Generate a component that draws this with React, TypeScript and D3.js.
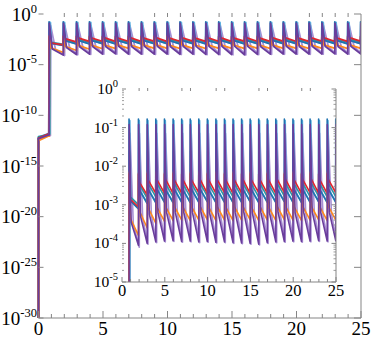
import React from 'react';
import * as d3 from 'd3';

// spike (pulse) times, shared by all series
const spikeTimes = [0.8, 1.9, 2.92, 3.93, 4.94, 5.95, 6.95, 7.95, 8.95, 9.95, 10.95, 11.95, 12.95, 13.95, 14.95, 15.95, 16.95, 17.95, 18.95, 19.95, 20.95, 21.95, 22.95, 23.95, 24.95];

// log10 levels: right after each pulse (knee) and just before the next pulse (trough)
const redKnee = [-2.85, -2.42, -2.36, -2.35, -2.34, -2.35, -2.34, -2.35, -2.33, -2.35, -2.34, -2.35, -2.34, -2.33, -2.35, -2.34, -2.35, -2.33, -2.34, -2.35, -2.34, -2.33, -2.35, -2.34, -2.35];
const redTrough = [-3.05, -2.74, -2.7, -2.69, -2.7, -2.69, -2.7, -2.68, -2.7, -2.69, -2.68, -2.7, -2.69, -2.7, -2.68, -2.69, -2.7, -2.68, -2.69, -2.7, -2.68, -2.69, -2.7, -2.68, -2.69];
const tealKnee = [-2.8, -2.5, -2.47, -2.46, -2.47, -2.46, -2.47, -2.46, -2.45, -2.47, -2.46, -2.47, -2.46, -2.45, -2.47, -2.46, -2.47, -2.45, -2.46, -2.47, -2.46, -2.45, -2.47, -2.46, -2.47];
const tealTrough = [-3.0, -2.84, -2.81, -2.8, -2.81, -2.8, -2.81, -2.8, -2.79, -2.81, -2.8, -2.81, -2.8, -2.79, -2.81, -2.8, -2.81, -2.79, -2.8, -2.81, -2.8, -2.79, -2.81, -2.8, -2.81];
const blueKnee = [-2.88, -2.6, -2.58, -2.57, -2.58, -2.57, -2.58, -2.57, -2.56, -2.58, -2.57, -2.58, -2.57, -2.56, -2.58, -2.57, -2.58, -2.56, -2.57, -2.58, -2.57, -2.56, -2.58, -2.57, -2.58];
const blueTrough = [-3.1, -2.96, -2.94, -2.93, -2.94, -2.93, -2.94, -2.93, -2.92, -2.94, -2.93, -2.94, -2.93, -2.92, -2.94, -2.93, -2.94, -2.92, -2.93, -2.94, -2.93, -2.92, -2.94, -2.93, -2.94];
const skyKnee = [-2.9, -2.64, -2.62, -2.61, -2.62, -2.61, -2.62, -2.61, -2.6, -2.62, -2.61, -2.62, -2.61, -2.6, -2.62, -2.61, -2.62, -2.6, -2.61, -2.62, -2.61, -2.6, -2.62, -2.61, -2.62];
const skyTrough = [-3.12, -2.98, -2.96, -2.95, -2.96, -2.95, -2.96, -2.95, -2.94, -2.96, -2.95, -2.96, -2.95, -2.94, -2.96, -2.95, -2.96, -2.94, -2.95, -2.96, -2.95, -2.94, -2.96, -2.95, -2.96];
const orangeKnee = [-3.35, -3.18, -3.1, -3.07, -3.06, -3.05, -3.06, -3.05, -3.04, -3.06, -3.05, -3.06, -3.05, -3.04, -3.06, -3.05, -3.06, -3.04, -3.05, -3.06, -3.05, -3.04, -3.06, -3.05, -3.06];
const orangeTrough = [-3.8, -3.6, -3.48, -3.43, -3.41, -3.4, -3.41, -3.4, -3.39, -3.41, -3.4, -3.41, -3.4, -3.39, -3.41, -3.4, -3.41, -3.39, -3.4, -3.41, -3.4, -3.39, -3.41, -3.4, -3.41];
const purpleKnee = [-3.45, -3.3, -3.24, -3.2, -3.2, -3.19, -3.2, -3.19, -3.18, -3.2, -3.19, -3.2, -3.19, -3.18, -3.2, -3.19, -3.2, -3.18, -3.19, -3.2, -3.19, -3.18, -3.2, -3.19, -3.2];
const purpleTrough = [-4.05, -4.0, -3.96, -3.94, -3.93, -3.95, -3.94, -3.96, -3.95, -3.97, -3.96, -3.98, -3.99, -4.0, -4.02, -3.98, -3.96, -3.95, -3.94, -3.95, -3.94, -3.93, -3.94, -3.93, -3.94];
const lavKnee = [-3.5, -3.35, -3.28, -3.25, -3.24, -3.23, -3.24, -3.23, -3.22, -3.24, -3.23, -3.24, -3.23, -3.22, -3.24, -3.23, -3.24, -3.22, -3.23, -3.24, -3.23, -3.22, -3.24, -3.23, -3.24];
const lavTrough = [-4.1, -4.02, -3.98, -3.96, -3.95, -3.97, -3.96, -3.98, -3.97, -3.99, -3.98, -4.0, -4.01, -4.02, -4.04, -4.0, -3.98, -3.97, -3.96, -3.97, -3.96, -3.95, -3.96, -3.95, -3.96];

// pulse peak (log10), pre-pulse plateau (log10 at t=0 and t=0.75), pulse delay and decay width
const seriesNames = ['lav', 'sky', 'teal', 'blue', 'red', 'orange', 'purple'];
const seriesPeak = [-1.15, -0.82, -1.6, -0.78, -2.2, -2.15, -0.92];
const seriesInit = [[-12.35, -12.0], [-12.2, -11.8], [-12.1, -11.9], [-12.25, -11.85], [-12.25, -11.85], [-12.5, -12.05], [-12.3, -11.95]];
const seriesDelay = [0.12, 0.1, 0.05, 0.0, 0.0, 0.03, 0.02];
const seriesFall = [0.4, 0.12, 0.15, 0.1, 0.15, 0.15, 0.25];
const seriesKnee = [lavKnee, skyKnee, tealKnee, blueKnee, redKnee, orangeKnee, purpleKnee];
const seriesTrough = [lavTrough, skyTrough, tealTrough, blueTrough, redTrough, orangeTrough, purpleTrough];
const seriesColor = ['#a88fd4', '#5fb0e0', '#2a97a6', '#1f73b0', '#e2262c', '#ff8a1c', '#6a3d9c'];

const mainYExps = ['0', '-5', '-10', '-15', '-20', '-25', '-30'];
const xLabels = ['0', '5', '10', '15', '20', '25'];
const insetYExps = ['0', '-1', '-2', '-3', '-4', '-5'];
const mainTopTicks = [2, 3, 4, 5, 6, 9, 10, 11, 12, 14, 15, 16, 17, 18, 21, 22, 23, 24];
const insetTopTicks = [2, 3, 7, 8, 11, 12, 16, 17, 21, 22];

type P = [number, number];

function buildPoints(i: number): P[] {
  const pts: P[] = [];
  const init = seriesInit[i];
  pts.push([0, -34]);
  pts.push([0, init[0]]);
  pts.push([0.75, init[1]]);
  spikeTimes.forEach((t0, k) => {
    const t = t0 + seriesDelay[i];
    const prev = k === 0 ? init[1] : seriesTrough[i][k - 1];
    pts.push([t, prev]);
    pts.push([t + 0.02, seriesPeak[i]]);
    pts.push([t + seriesFall[i], seriesKnee[i][k]]);
    const tEnd = k + 1 < spikeTimes.length ? spikeTimes[k + 1] + seriesDelay[i] : 25.95;
    pts.push([tEnd, seriesTrough[i][k]]);
  });
  return pts;
}

const GRAY = '#858585';
const FONT = '"Liberation Serif", "Times New Roman", Times, serif';
const TXT = { fontFamily: FONT, fill: '#000' } as React.CSSProperties;

export default function App() {
  const mx = d3.scaleLinear().domain([0, 25]).range([38.5, 361]);
  const my = d3.scaleLog().domain([1e-30, 1]).range([318, 14]);
  const ix = d3.scaleLinear().domain([0, 25]).range([122, 336]);
  const iy = d3.scaleLog().domain([1e-5, 1]).range([282, 89]);

  const data = seriesNames.map((n, i) => ({ name: n, color: seriesColor[i], pts: buildPoints(i) }));
  const mainLine = d3.line<P>().x(d => mx(d[0])).y(d => my(Math.pow(10, d[1])));
  const insetLine = d3.line<P>().x(d => ix(d[0])).y(d => iy(Math.pow(10, d[1])));

  const ints = d3.range(0, 26);
  const insetMinor: number[] = [];
  for (let e = -5; e < 0; e++) for (let m = 2; m <= 9; m++) insetMinor.push(m * Math.pow(10, e));

  return (
    <svg width={380} height={338} style={{ position: 'absolute', left: 0, top: 0, background: '#fff' }}>
      <defs>
        <clipPath id="mainClip"><rect x={mx(0) - 2} y={my(1) - 1} width={mx(25) - mx(0) + 2} height={my(1e-30) - my(1) + 1} /></clipPath>
        <clipPath id="insetClip"><rect x={ix(0)} y={iy(1)} width={ix(25) - ix(0)} height={iy(1e-5) - iy(1)} /></clipPath>
      </defs>
      <rect x={0} y={0} width={380} height={338} fill="#fff" />

      {/* main data */}
      <g clipPath="url(#mainClip)">
        {data.map(s => (
          <path key={s.name} d={mainLine(s.pts) || ''} fill="none" stroke={s.color} strokeWidth={1.8} strokeLinejoin="round" />
        ))}
      </g>

      {/* main axes */}
      <line x1={mx(0)} x2={mx(25)} y1={my(1e-30)} y2={my(1e-30)} stroke={GRAY} strokeWidth={1} />
      <line x1={mx(25)} x2={mx(25)} y1={my(1)} y2={my(1e-30)} stroke={GRAY} strokeWidth={1} />
      {ints.map(t => (
        <line key={'mb' + t} x1={mx(t)} x2={mx(t)} y1={my(1e-30)} y2={my(1e-30) - (t % 5 === 0 ? 7 : 4)} stroke={GRAY} />
      ))}
      {mainTopTicks.map(t => (
        <line key={'mt' + t} x1={mx(t)} x2={mx(t)} y1={my(1) - 1} y2={my(1) + 3} stroke={GRAY} />
      ))}
      {mainYExps.map(e => {
        const y = my(Math.pow(10, +e));
        return (
          <g key={'my' + e}>
            <line x1={mx(0)} x2={mx(0) + 5} y1={y} y2={y} stroke={GRAY} />
            <line x1={mx(25) - 7} x2={mx(25)} y1={y} y2={y} stroke={GRAY} />
            <text x={37} y={y + 6.5} textAnchor="end" fontSize={19} style={TXT}>10<tspan dy={-8} fontSize={12.5}>{e}</tspan></text>
          </g>
        );
      })}
      {xLabels.map(l => (
        <text key={'mxl' + l} x={mx(+l)} y={335} textAnchor="middle" fontSize={19} style={TXT}>{l}</text>
      ))}

      {/* inset data */}
      <g clipPath="url(#insetClip)">
        {data.map(s => (
          <path key={'i' + s.name} d={insetLine(s.pts) || ''} fill="none" stroke={s.color} strokeWidth={1.6} strokeLinejoin="round" />
        ))}
      </g>

      {/* inset axes */}
      <line x1={ix(0)} x2={ix(25)} y1={iy(1e-5)} y2={iy(1e-5)} stroke={GRAY} />
      <line x1={ix(25)} x2={ix(25)} y1={iy(1)} y2={iy(1e-5)} stroke={GRAY} />
      {ints.map(t => (
        <line key={'ib' + t} x1={ix(t)} x2={ix(t)} y1={iy(1e-5)} y2={iy(1e-5) - (t % 5 === 0 ? 5 : 3)} stroke={GRAY} />
      ))}
      {insetTopTicks.map(t => (
        <line key={'it' + t} x1={ix(t)} x2={ix(t)} y1={iy(1) - 1} y2={iy(1) + 2} stroke={GRAY} />
      ))}
      {insetMinor.map((v, k) => (
        <g key={'im' + k}>
          <line x1={ix(0)} x2={ix(0) + 2} y1={iy(v)} y2={iy(v)} stroke={GRAY} strokeWidth={0.8} />
          <line x1={ix(25) - 2.5} x2={ix(25)} y1={iy(v)} y2={iy(v)} stroke={GRAY} strokeWidth={0.8} />
        </g>
      ))}
      {insetYExps.map(e => {
        const y = iy(Math.pow(10, +e));
        return (
          <g key={'iy' + e}>
            <line x1={ix(0)} x2={ix(0) + 4} y1={y} y2={y} stroke={GRAY} />
            <line x1={ix(25) - 4.5} x2={ix(25)} y1={y} y2={y} stroke={GRAY} />
            <text x={118} y={y + 5} textAnchor="end" fontSize={15.5} style={TXT}>10<tspan dy={-7} fontSize={10.5}>{e}</tspan></text>
          </g>
        );
      })}
      {xLabels.map(l => (
        <text key={'ixl' + l} x={ix(+l)} y={296} textAnchor="middle" fontSize={16.5} style={TXT}>{l}</text>
      ))}
    </svg>
  );
}
